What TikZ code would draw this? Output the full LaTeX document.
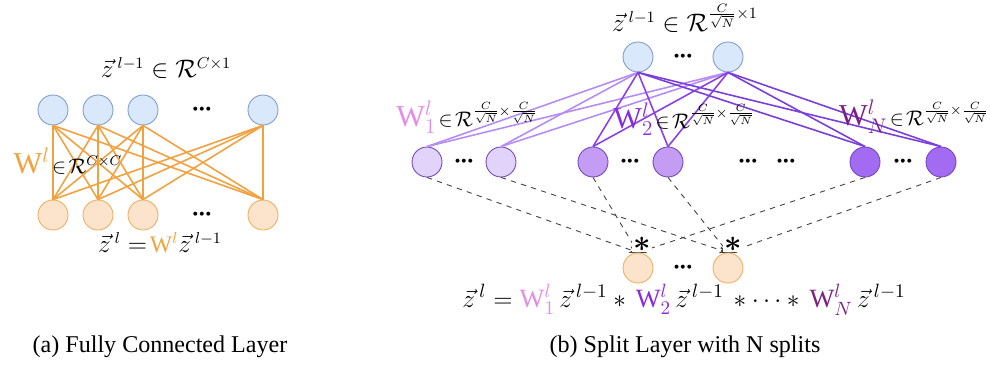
\documentclass[tikz,border=0pt]{standalone}
\usepackage{amsmath,amssymb}
\usepackage{fontspec}
\setmainfont{Liberation Serif}
\usepackage{tikz}
\usetikzlibrary{positioning,arrows.meta}
\definecolor{inBlue}{HTML}{DAE8FC}
\definecolor{inBlueLine}{HTML}{7F9CC8}
\definecolor{outOrange}{HTML}{FCE4CC}
\definecolor{outOrangeLine}{HTML}{EFAE5F}
\definecolor{fcOrange}{HTML}{F3A13F}
\definecolor{splitA}{HTML}{B58CF4}
\definecolor{splitB}{HTML}{8C40E6}
\definecolor{splitN}{HTML}{7A3EDB}
\definecolor{fillA}{HTML}{E1D3FA}
\definecolor{fillB}{HTML}{C49CF3}
\definecolor{fillN}{HTML}{A36BF2}
\definecolor{unitLine}{HTML}{7048BE}
\definecolor{wA}{HTML}{E58CEA}
\definecolor{wB}{HTML}{8A2BD9}
\definecolor{wN}{HTML}{7B2183}
\tikzset{
  unit/.style={circle, minimum size=0.6cm, inner sep=0pt, line width=0.5pt},
  inunit/.style={unit, draw=inBlueLine, fill=inBlue},
  outunit/.style={unit, draw=outOrangeLine, fill=outOrange},
  splitunit/.style={unit, draw=unitLine, fill=#1},
  fcedge/.style={fcOrange, line width=0.9pt},
  splitedge/.style={#1, line width=0.9pt},
  mergeedge/.style={dashed, black!75, line width=0.5pt, -{Stealth[length=5pt,width=4pt]}},
  dotsnode/.style={inner sep=0pt, font=\Large},
  mathlabel/.style={inner sep=1pt, font=\fontsize{13.5}{16}\selectfont},
  wlabel/.style={inner sep=1pt, font=\large},
  astnode/.style={fill=white, inner sep=0.5pt, font=\LARGE},
  caption/.style={font=\fontsize{13.7}{16}\selectfont}
}
\newcommand{\unitdots}{{\boldmath$\mathord{\cdot}\mkern-1mu\mathord{\cdot}\mkern-1mu\mathord{\cdot}$}}
\newcommand{\sqfrac}{\frac{C}{\sqrt{N}}}
\newcommand{\bigW}[2]{{\color{#1}\text{\LARGE$\mathrm{W}^{l}#2$}}}

\begin{document}
\begin{tikzpicture}[x=0.02cm, y=-0.02cm]
  \useasboundingbox (0,0) rectangle (990,367);

  % (a) fully connected layer
  \foreach \name/\px in {1/53, 2/98, 3/143, 4/263} {
    \node[inunit] (a\name) at (\px,110) {};
    \node[outunit] (b\name) at (\px,215) {};
  }
  \node[dotsnode] (adots) at (202,110) {\unitdots};
  \node[dotsnode] (bdots) at (202,215) {\unitdots};
  \foreach \i in {1,...,4}
    \foreach \j in {1,...,4}
      \draw[fcedge] (a\i.south) -- (b\j.north);
  \node[mathlabel] (fcin) at (166,68) {$\vec{z}\,^{l-1}\in\mathcal{R}^{C\times 1}$};
  \node[wlabel] (fcw) at (68,161) {$\bigW{fcOrange}{}\!\in\!\mathcal{R}^{C\times C}$};
  \node[mathlabel] (fcout) at (160,243) {$\vec{z}\,^{l}\mathrel{=}\!{\color{fcOrange}\mathrm{W}^l}\vec{z}\,^{l-1}$};
  \node[caption] (capa) at (160,347) {(a) Fully Connected Layer};

  % (b) split layer
  \node[inunit] (t1) at (638,57) {};
  \node[inunit] (t2) at (728,57) {};
  \node[dotsnode] (tdots) at (683,57) {\unitdots};

  \node[splitunit=fillA] (m1) at (427,162) {};
  \node[splitunit=fillA] (m2) at (501,162) {};
  \node[splitunit=fillB] (m3) at (593,162) {};
  \node[splitunit=fillB] (m4) at (668,162) {};
  \node[splitunit=fillN] (m5) at (865,162) {};
  \node[splitunit=fillN] (m6) at (941,162) {};
  \foreach \px [count=\k] in {464,630,748,786,903}
    \node[dotsnode] (mdots\k) at (\px,162) {\unitdots};

  \node[outunit] (o1) at (638,268) {};
  \node[outunit] (o2) at (728,268) {};
  \node[dotsnode] (odots) at (683,268) {\unitdots};

  \foreach \m/\c in {1/splitA, 2/splitA, 3/splitB, 4/splitB, 5/splitN, 6/splitN}
    \foreach \t in {1,2}
      \draw[splitedge=\c] (t\t.south) -- (m\m.north);

  \foreach \m/\o in {1/1, 3/1, 5/1, 2/2, 4/2, 6/2}
    \draw[mergeedge] (m\m.south) -- (o\o.north);
  \node[astnode] (ast1) at (642,244) {$\boldsymbol{\ast}$};
  \node[astnode] (ast2) at (733,244) {$\boldsymbol{\ast}$};

  \node[mathlabel] (spin) at (685,18) {$\vec{z}\,^{l-1}\in\mathcal{R}^{\sqfrac\times 1}$};
  \node[wlabel] (spwA) at (467,117) {$\bigW{wA}{_1}\!\in\!\mathcal{R}^{\sqfrac\times\sqfrac}$};
  \node[wlabel] (spwB) at (684,119) {$\bigW{wB}{_2}\!\in\!\mathcal{R}^{\sqfrac\times\sqfrac}$};
  \node[wlabel] (spwN) at (914,117) {$\bigW{wN}{_N}\!\in\!\mathcal{R}^{\sqfrac\times\sqfrac}$};
  \node[mathlabel, font=\fontsize{15}{18}\selectfont] (spout) at (684,300) {$\vec{z}\,^{l}={\color{wA}\mathrm{W}^l_1}\,\vec{z}\,^{l-1}\mathbin{\ast}\,{\color{wB}\mathrm{W}^l_2}\,\vec{z}\,^{l-1}\,\mathbin{\ast}\cdots\mathbin{\ast}\,{\color{wN}\mathrm{W}^l_N}\,\vec{z}\,^{l-1}$};
  \node[caption] (capb) at (685,347) {(b) Split Layer with N splits};
\end{tikzpicture}
\end{document}
